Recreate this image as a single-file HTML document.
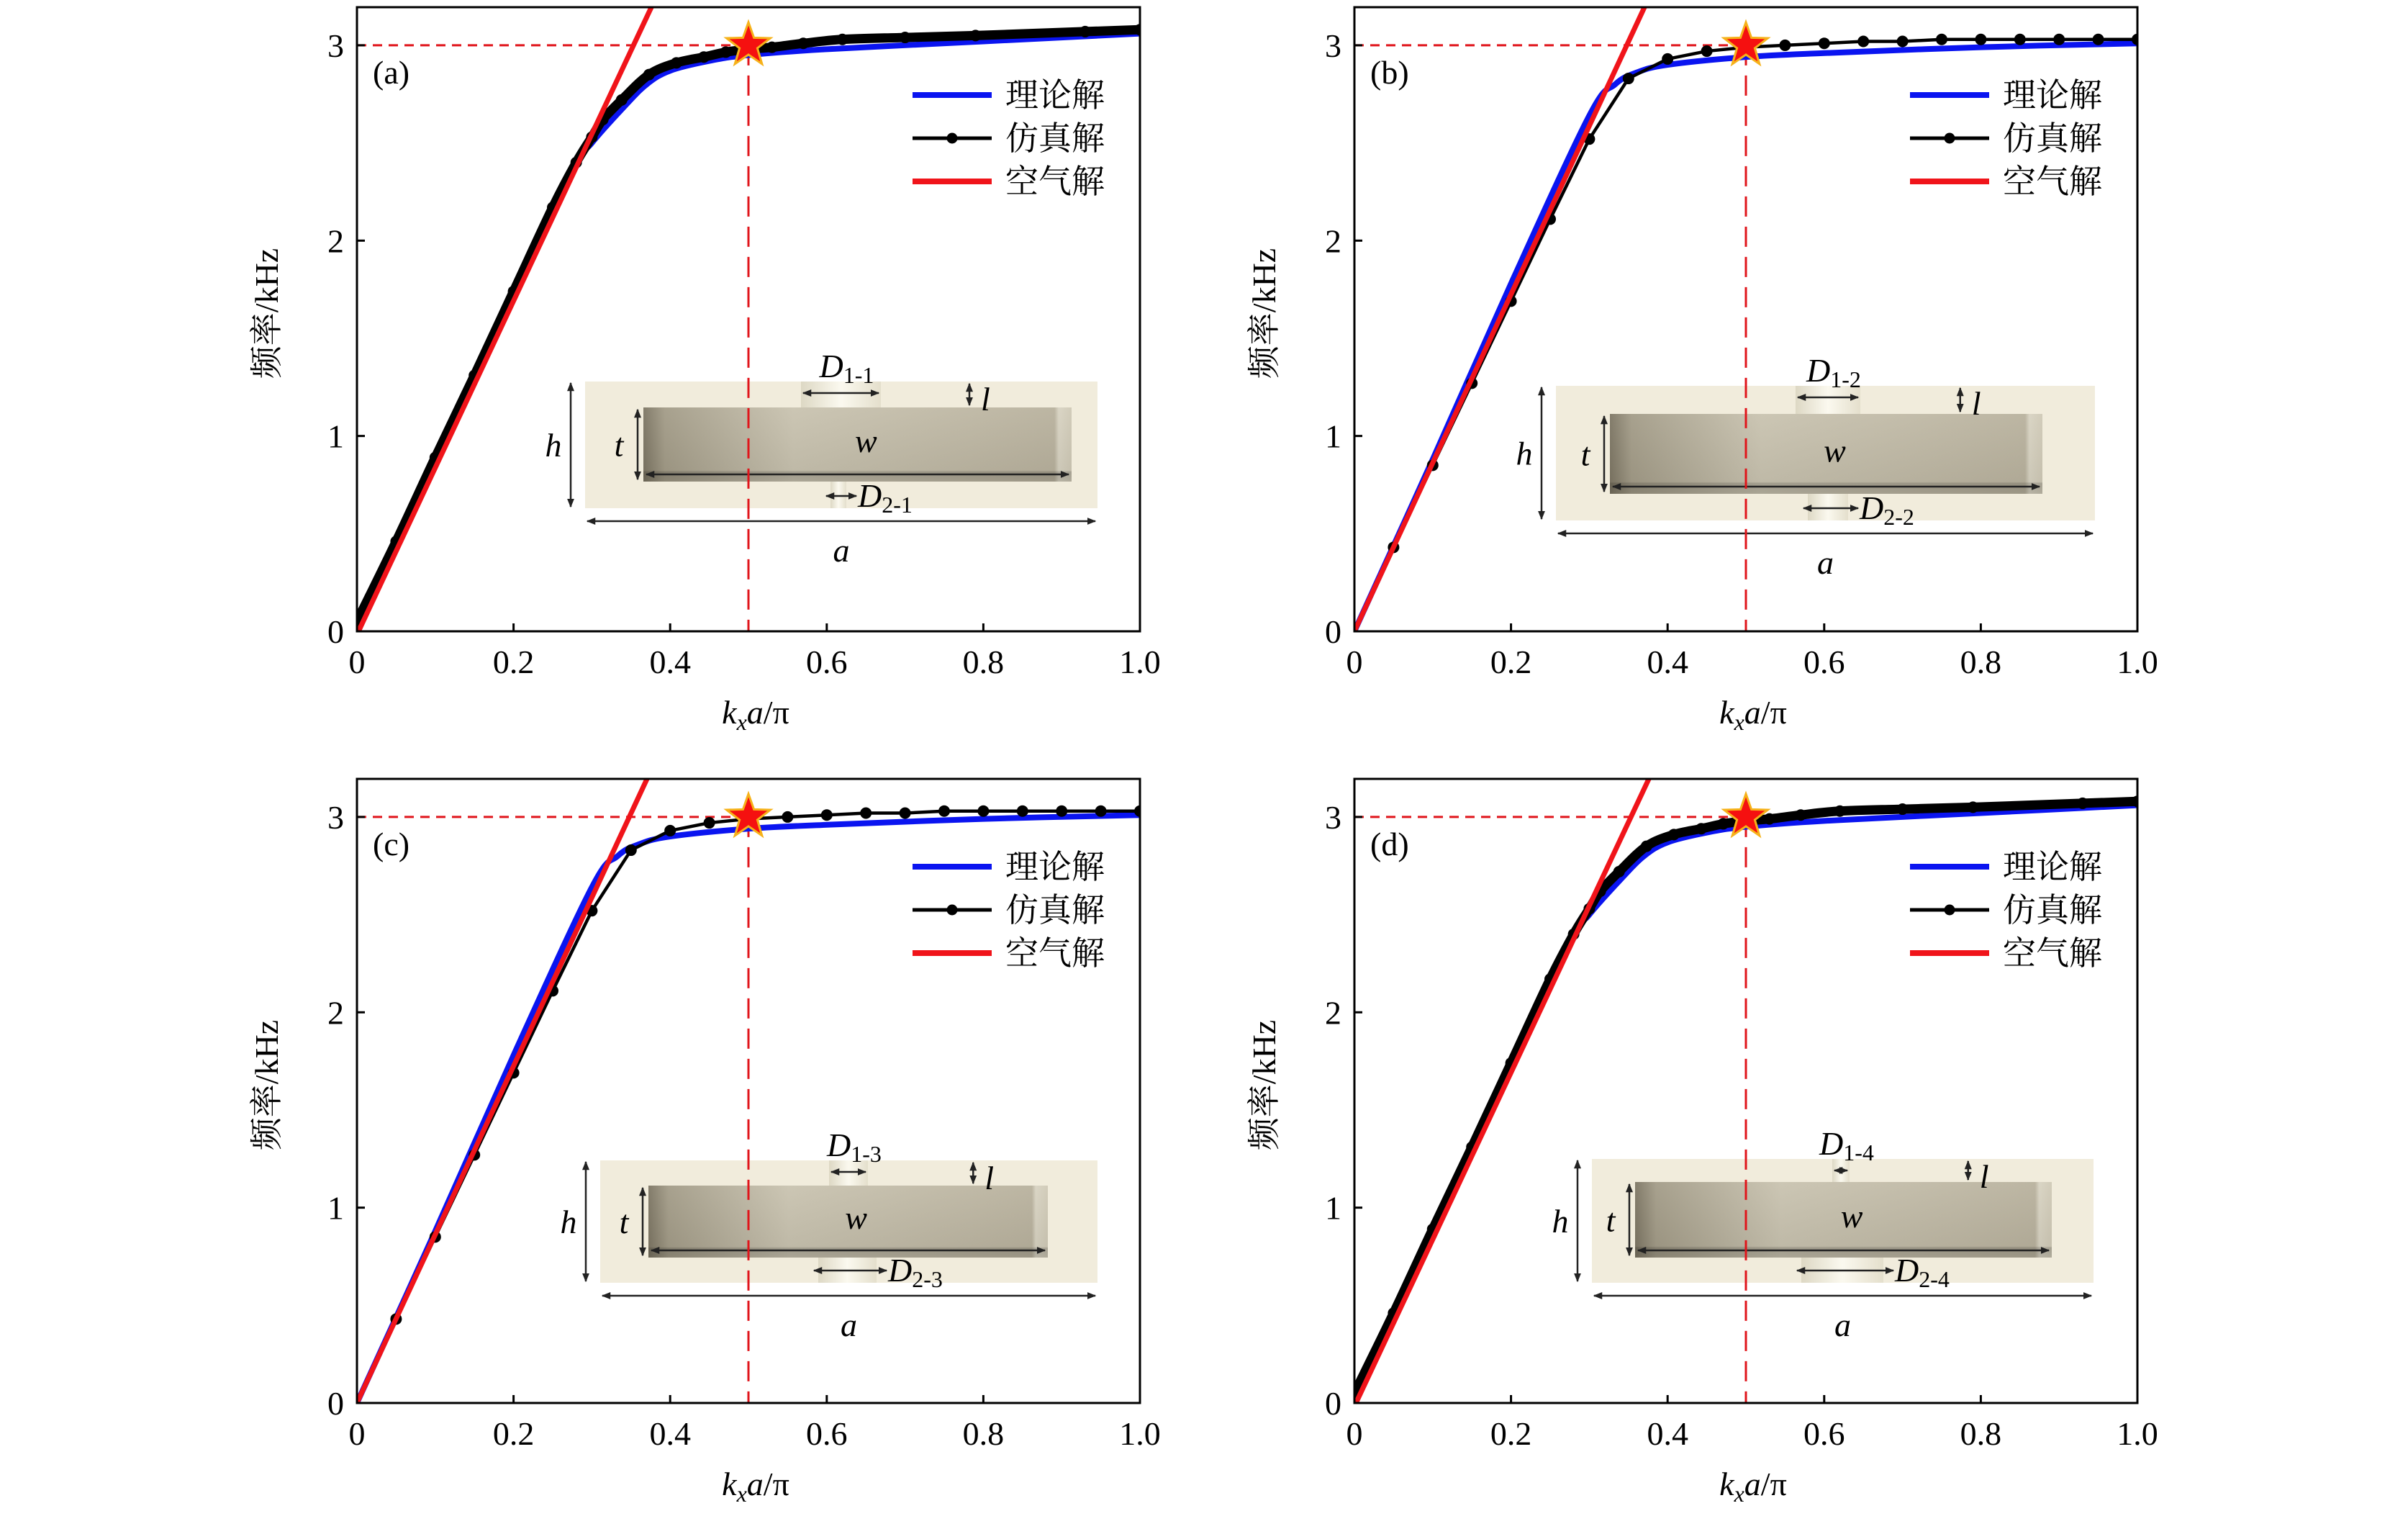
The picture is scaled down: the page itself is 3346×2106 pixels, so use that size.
<!DOCTYPE html>
<html><head><meta charset="utf-8">
<style>
html,body{margin:0;padding:0;background:#fff;}
svg{display:block;}
.tick{font-family:"Liberation Serif",serif;font-size:46px;fill:#000;}
.lab{font-family:"Liberation Serif","Noto Serif CJK SC",serif;font-size:46px;fill:#000;}
.leg{font-family:"Liberation Serif","Noto Serif CJK SC",serif;font-size:46px;fill:#000;}
.it{font-family:"Liberation Serif",serif;font-style:italic;font-size:46px;fill:#000;}
.sub{font-family:"Liberation Serif",serif;font-size:32px;fill:#000;font-style:normal;}
</style></head>
<body>
<svg id="fig" xmlns="http://www.w3.org/2000/svg" width="3346" height="2106" viewBox="0 0 3346 2106">
<defs>
<linearGradient id="cavity" x1="0" x2="1" y1="0" y2="0">
<stop offset="0" stop-color="#7d7664"/><stop offset="0.05" stop-color="#a39c88"/><stop offset="0.35" stop-color="#c9c3b0"/><stop offset="0.96" stop-color="#b9b29e"/><stop offset="0.97" stop-color="#d8d3c2"/><stop offset="1" stop-color="#cfc9b6"/>
</linearGradient>
<linearGradient id="cavityV" x1="0" x2="0" y1="0" y2="1">
<stop offset="0" stop-color="#ffffff" stop-opacity="0.05"/><stop offset="0.85" stop-color="#000" stop-opacity="0.05"/><stop offset="0.87" stop-color="#000" stop-opacity="0.2"/><stop offset="1" stop-color="#000" stop-opacity="0.15"/>
</linearGradient>
<linearGradient id="hole" x1="0" x2="1" y1="0" y2="0">
<stop offset="0" stop-color="#ddd8c4"/><stop offset="0.5" stop-color="#fbf9ef"/><stop offset="1" stop-color="#e4dfcc"/>
</linearGradient>
<marker id="arr" viewBox="0 0 10 10" refX="9" refY="5" markerWidth="5" markerHeight="5" orient="auto-start-reverse"><path d="M0,1 L10,5 L0,9 z" fill="#222"/></marker>
</defs>
</svg>
<script>
// ---------- data ----------
const xTicks = [0, 0.2, 0.4, 0.6, 0.8, 1.0];
const xTickLabels = ["0", "0.2", "0.4", "0.6", "0.8", "1.0"];
const yTicks = [0, 1, 2, 3];
const yTickLabels = ["0", "1", "2", "3"];
const legendLabels = ["理论解", "仿真解", "空气解"];
const panelLetters = ["(a)", "(b)", "(c)", "(d)"];

const airAX = [0.002, 0.4];
const airAY = [0, 3.4];
const airBX = [0, 0.4];
const airBY = [0, 3.45];

const theoryAX = [0, 0.1, 0.2, 0.28, 0.3, 0.34, 0.37, 0.4, 0.45, 0.5, 0.6, 0.8, 1.0];
const theoryAY = [0.02, 0.87, 1.72, 2.38, 2.5, 2.68, 2.8, 2.87, 2.92, 2.95, 2.98, 3.02, 3.06];
const simAX = [0, 0.05, 0.1, 0.15, 0.2, 0.25, 0.28, 0.3, 0.314, 0.338, 0.373, 0.408, 0.443, 0.471, 0.5, 0.53, 0.57, 0.62, 0.7, 0.79, 0.93, 1.0];
const simAY = [0.05, 0.46, 0.89, 1.31, 1.74, 2.17, 2.4, 2.53, 2.62, 2.72, 2.85, 2.91, 2.94, 2.965, 2.98, 2.99, 3.01, 3.03, 3.04, 3.05, 3.07, 3.08];

const theoryBX = [0, 0.1, 0.2, 0.3, 0.333, 0.36, 0.4, 0.5, 0.6, 0.8, 1.0];
const theoryBY = [0, 0.88, 1.78, 2.64, 2.8, 2.86, 2.9, 2.94, 2.96, 2.99, 3.01];
const simBX = [0, 0.05, 0.1, 0.15, 0.2, 0.25, 0.3, 0.35, 0.4, 0.45, 0.5, 0.55, 0.6, 0.65, 0.7, 0.75, 0.8, 0.85, 0.9, 0.95, 1.0];
const simBY = [0, 0.43, 0.85, 1.27, 1.69, 2.11, 2.52, 2.83, 2.93, 2.97, 2.99, 3.0, 3.01, 3.02, 3.02, 3.03, 3.03, 3.03, 3.03, 3.03, 3.03];

const markX = 0.5, markY = 3.0;

// ---------- layout ----------
const NS = "http://www.w3.org/2000/svg";
const svg = document.getElementById("fig");
const W = 1088, H = 867, YMAX = 3.195;
const panels = [
  {l:496, t:10, th:[theoryAX,theoryAY], sim:[simAX,simAY], air:[airAX,airAY], dense:true,
   inset:{ox:813,oy:530,ow:712,oh:176, ix:894,iy:566,iw:595,ih:103, h1:[1113,1224], h2:[1154,1176], d1:"1-1", d2:"2-1"}},
  {l:1882, t:10, th:[theoryBX,theoryBY], sim:[simBX,simBY], air:[airBX,airBY], dense:false,
   inset:{ox:2162,oy:536,ow:749,oh:187, ix:2237,iy:575,iw:601,ih:111, h1:[2495,2585], h2:[2512,2568], d1:"1-2", d2:"2-2"}},
  {l:496, t:1082, th:[theoryBX,theoryBY], sim:[simBX,simBY], air:[airBX,airBY], dense:false,
   inset:{ox:834,oy:1612,ow:691,oh:170, ix:901,iy:1647,iw:555,ih:100, h1:[1152,1206], h2:[1137,1218], d1:"1-3", d2:"2-3"}},
  {l:1882, t:1082, th:[theoryAX,theoryAY], sim:[simAX,simAY], air:[airAX,airAY], dense:true,
   inset:{ox:2212,oy:1610,ow:697,oh:172, ix:2272,iy:1642,iw:579,ih:105, h1:[2546,2570], h2:[2503,2617], d1:"1-4", d2:"2-4"}}
];

function mk(tag, attrs, parent){
  const e = document.createElementNS(NS, tag);
  for (const k in attrs) e.setAttribute(k, attrs[k]);
  (parent||svg).appendChild(e);
  return e;
}
function smoothPath(pts){
  let d = "M" + pts[0][0] + "," + pts[0][1];
  for (let i=0;i<pts.length-1;i++){
    const p0=pts[Math.max(0,i-1)], p1=pts[i], p2=pts[i+1], p3=pts[Math.min(pts.length-1,i+2)];
    const c1=[p1[0]+(p2[0]-p0[0])/6, p1[1]+(p2[1]-p0[1])/6];
    const c2=[p2[0]-(p3[0]-p1[0])/6, p2[1]-(p3[1]-p1[1])/6];
    d += " C"+c1[0]+","+c1[1]+" "+c2[0]+","+c2[1]+" "+p2[0]+","+p2[1];
  }
  return d;
}
function starPath(cx, cy, R, r){
  let d="";
  for (let i=0;i<10;i++){
    const a = -Math.PI/2 + i*Math.PI/5, rr = i%2? r:R;
    d += (i?"L":"M") + (cx+rr*Math.cos(a)).toFixed(1) + "," + (cy+rr*Math.sin(a)).toFixed(1);
  }
  return d+"Z";
}

panels.forEach((p, pi) => {
  const sx = v => p.l + v * W;
  const sy = v => p.t + H - v / YMAX * H;
  const g = mk("g", {});
  
  

  const clipId = "clip" + pi;
  const cp = mk("clipPath", {id: clipId}, g);
  mk("rect", {x:p.l, y:p.t, width:W, height:H}, cp);

  // inset diagram
  const s = p.inset;
  const ig = mk("g", {}, g);
  
  
  mk("rect", {x:s.ox, y:s.oy, width:s.ow, height:s.oh, fill:"#f1ecdc"}, ig);
  mk("rect", {x:s.h1[0], y:s.oy, width:s.h1[1]-s.h1[0], height:s.iy-s.oy, fill:"url(#hole)"}, ig);
  mk("rect", {x:s.h2[0], y:s.iy+s.ih, width:s.h2[1]-s.h2[0], height:s.oy+s.oh-s.iy-s.ih, fill:"url(#hole)"}, ig);
  mk("rect", {x:s.ix, y:s.iy, width:s.iw, height:s.ih, fill:"url(#cavity)"}, ig);
  mk("rect", {x:s.ix, y:s.iy, width:s.iw, height:s.ih, fill:"url(#cavityV)"}, ig);
  const ln = (x1,y1,x2,y2) => mk("line", {x1,y1,x2,y2, stroke:"#222", "stroke-width":2.5, "marker-start":"url(#arr)", "marker-end":"url(#arr)"}, ig);
  ln(s.ox-20, s.oy+2, s.ox-20, s.oy+s.oh-2);
  ln(s.ix-8, s.iy+3, s.ix-8, s.iy+s.ih-3);
  ln(s.ix+4, s.iy+s.ih-10, s.ix+s.iw-4, s.iy+s.ih-10);
  ln(s.ox+3, s.oy+s.oh+18, s.ox+s.ow-3, s.oy+s.oh+18);
  ln(s.h1[0]+3, s.oy+16, s.h1[1]-3, s.oy+16);
  ln(s.h2[0]-6, s.oy+s.oh-17, s.h2[1]+14, s.oy+s.oh-17);
  const lx = s.ox + s.ow*0.75;
  ln(lx, s.oy+3, lx, s.iy-3);
  const tx = (x,y,str,anchor) => { const t = mk("text", {x, y, class:"it", "text-anchor":anchor||"middle"}, ig); t.textContent = str; return t; };
  tx(s.ox-44, s.oy+s.oh/2+16, "h");
  tx(s.ix-34, s.iy+s.ih/2+16, "t");
  tx(s.ix+s.iw*0.52, s.iy+s.ih*0.6, "w");
  tx(s.ox+s.ow/2, s.oy+s.oh+74, "a");
  tx(lx+16, s.oy+40, "l", "start");
  const d1 = mk("text", {x:(s.h1[0]+s.h1[1])/2-30, y:s.oy-6, class:"it"}, ig);
  d1.textContent = "D";
  const d1s = mk("tspan", {class:"sub", dy:8}, d1); d1s.textContent = s.d1;
  const d2 = mk("text", {x:s.h2[1]+16, y:s.oy+s.oh-2, class:"it"}, ig);
  d2.textContent = "D";
  const d2s = mk("tspan", {class:"sub", dy:8}, d2); d2s.textContent = s.d2;

  // reference dashed lines
  const dh = mk("line", {x1:sx(0), y1:sy(markY), x2:sx(markX), y2:sy(markY), stroke:"#e0151b", "stroke-width":3, "stroke-dasharray":"13 9"}, g);
  
  
  const dv = mk("line", {x1:sx(markX), y1:sy(markY), x2:sx(markX), y2:sy(0), stroke:"#e0151b", "stroke-width":3, "stroke-dasharray":"28 14"}, g);
  
  

  const cg = mk("g", {"clip-path":"url(#"+clipId+")"}, g);
  // theory (blue)
  const tp = mk("path", {d: smoothPath(p.th[0].map((x,i)=>[sx(x), sy(p.th[1][i])])), fill:"none", stroke:"#0a14f0", "stroke-width":8}, cg);
  
  
  // simulation (black)
  const spts = p.sim[0].map((x,i)=>[sx(x), sy(p.sim[1][i])]);
  const sp = p.dense
    ? mk("path", {d: smoothPath(spts), fill:"none", stroke:"#000", "stroke-width":13, "stroke-linejoin":"round"}, cg)
    : mk("polyline", {points: spts.map(q=>q.join(",")).join(" "), fill:"none", stroke:"#000", "stroke-width":4.5, "stroke-linejoin":"round"}, cg);
  
  
  spts.forEach((q, i) => {
    if (!p.dense && i === 0) return;
    const c = mk("circle", {cx:q[0], cy:q[1], r:8, fill:"#000"}, cg);
    
    
  });
  // air (red)
  const ap = mk("line", {x1:sx(p.air[0][0]), y1:sy(p.air[1][0]), x2:sx(p.air[0][1]), y2:sy(p.air[1][1]), stroke:"#f0141a", "stroke-width":7}, cg);
  
  

  // star
  const st = mk("path", {d: starPath(sx(markX), sy(markY), 32, 13), fill:"#f51010", stroke:"#f6b21a", "stroke-width":3}, g);
  
  

  // axes frame
  const fr = mk("rect", {x:p.l, y:p.t, width:W, height:H, fill:"none", stroke:"#000", "stroke-width":3}, g);
  
  

  xTicks.forEach((v, i) => {
    mk("line", {x1:sx(v), y1:sy(0), x2:sx(v), y2:sy(0)-11, stroke:"#000", "stroke-width":3}, g);
    const t = mk("text", {x:sx(v), y:sy(0)+58, class:"tick", "text-anchor":"middle"}, g);
    t.textContent = xTickLabels[i];
    
    
  });
  yTicks.forEach((v, i) => {
    mk("line", {x1:sx(0), y1:sy(v), x2:sx(0)+11, y2:sy(v), stroke:"#000", "stroke-width":3}, g);
    const t = mk("text", {x:p.l-18, y:sy(v)+16, class:"tick", "text-anchor":"end"}, g);
    t.textContent = yTickLabels[i];
    
    
  });

  // axis titles
  const xt = mk("text", {x:p.l+W/2+10, y:p.t+H+128, class:"lab", "text-anchor":"middle"}, g);
  
  
  xt.innerHTML = '<tspan font-style="italic">k</tspan><tspan font-style="italic" font-size="32" dy="9">x</tspan><tspan font-style="italic" dy="-9">a</tspan>/π';
  const yt = mk("text", {x:0, y:0, class:"lab", "text-anchor":"middle", transform:"translate("+(p.l-110)+","+(p.t+H/2-8)+") rotate(-90)"}, g);
  yt.textContent = "频率/kHz";
  
  

  const pl = mk("text", {x:p.l+22, y:p.t+106, class:"tick"}, g);
  pl.textContent = panelLetters[pi];
  
  

  // legend
  const colors = ["#0a14f0", "#000", "#f0141a"];
  legendLabels.forEach((lab, i) => {
    const y = p.t + 122 + i*60;
    const le = mk("g", {}, g);
    
    
    mk("line", {x1:p.l+772, y1:y, x2:p.l+882, y2:y, stroke:colors[i], "stroke-width": i==1?5:8}, le);
    if (i == 1) mk("circle", {cx:p.l+827, cy:y, r:7.5, fill:"#000"}, le);
    const t = mk("text", {x:p.l+901, y:y+16, class:"leg"}, le);
    t.textContent = lab;
  });
});
</script>
</body></html>
